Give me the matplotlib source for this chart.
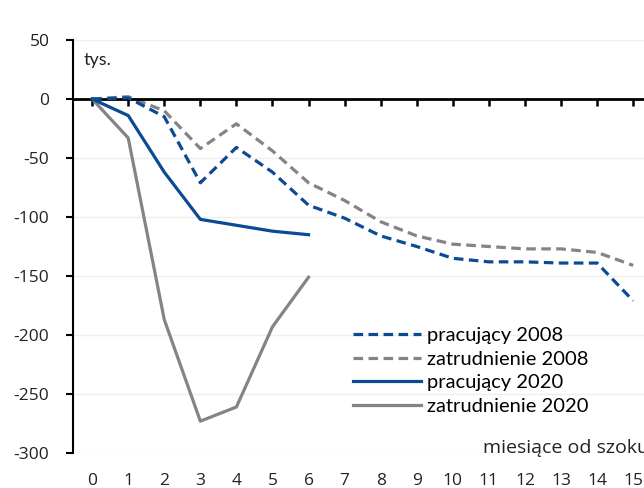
import matplotlib
matplotlib.use("Agg")
import matplotlib.pyplot as plt
from matplotlib.lines import Line2D

# months after the shock and changes (thousands)
months = list(range(16))
pracujacy_2008 = [0, 1, -15, -71, -41, -62, -90, -101, -116, -125, -135, -138, -138, -139, -139, -171]
zatrudnienie_2008 = [0, 2, -10, -42, -21, -44, -71, -86, -104, -116, -123, -125, -127, -127, -130, -141]
months_2020 = list(range(7))
pracujacy_2020 = [0, -14, -62, -102, -107, -112, -115]
zatrudnienie_2020 = [0, -33, -187, -273, -261, -193, -151]

y_ticks = [50, 0, -50, -100, -150, -200, -250, -300]
series_labels = ["pracujący 2008", "zatrudnienie 2008", "pracujący 2020", "zatrudnienie 2020"]

BLUE = "#0b4a95"
GREY = "#848484"

plt.rcParams["font.family"] = ["Open Sans", "DejaVu Sans"]

fig = plt.figure(figsize=(6.44, 4.88), dpi=100)
ax = fig.add_axes([0.1134, 0.0717, 0.8866, 0.8463])

ax.set_xlim(-0.53, 15.3)
ax.set_ylim(-300, 50)

for y in y_ticks:
    if y != 0:
        ax.axhline(y, color="#efefef", lw=1, zorder=0)

dash = (3, 1.7)
ax.plot(months, pracujacy_2008, color=BLUE, lw=2.3, dashes=dash, zorder=3)
ax.plot(months, zatrudnienie_2008, color=GREY, lw=2.3, dashes=dash, zorder=2)
ax.plot(months_2020, pracujacy_2020, color=BLUE, lw=2.3, zorder=3)
ax.plot(months_2020, zatrudnienie_2020, color=GREY, lw=2.3, zorder=2)

# x axis runs along zero, labels sit under the plot
for side in ("top", "right"):
    ax.spines[side].set_visible(False)
ax.spines["bottom"].set_position(("data", 0))
ax.spines["bottom"].set_linewidth(2)
ax.spines["left"].set_linewidth(1.5)
ax.set_xticks(months)
ax.tick_params(axis="x", direction="out", length=5, width=1.8, labelbottom=False)
for m in months:
    ax.text(m, -0.068, str(m), transform=ax.get_xaxis_transform(),
            ha="center", va="center", fontsize=12.5, color="#222222")

ax.set_yticks(y_ticks)
ax.set_yticklabels([str(v) for v in y_ticks])
ax.tick_params(axis="y", direction="out", length=5, width=1.5, pad=12,
               labelsize=12.5, labelcolor="#222222")

ax.text(-0.25, 33, "tys.", fontsize=13, family="Lato", color="#222222",
        ha="left", va="center")
ax.text(10.84, -296, "miesiące od szoku", fontsize=14,
        color="#222222", ha="left", va="center", clip_on=False)

handles = [
    Line2D([], [], color=BLUE, lw=2.3, dashes=dash),
    Line2D([], [], color=GREY, lw=2.3, dashes=dash),
    Line2D([], [], color=BLUE, lw=2.3),
    Line2D([], [], color=GREY, lw=2.3),
]
ax.legend(handles, series_labels, loc="upper left", bbox_to_anchor=(0.49, 0.305),
          frameon=False, prop={"family": "Lato", "size": 14.5},
          handlelength=3.4, handletextpad=0.3, labelspacing=0.32,
          borderpad=0, borderaxespad=0)

fig.text(0.5, 1.009, "Zmiana liczby pracujących i zatrudnienia po szoku gospodarczym",
         ha="center", va="baseline", fontsize=13, fontweight="bold", color=BLUE)

fig.savefig("out.png", dpi=100)
